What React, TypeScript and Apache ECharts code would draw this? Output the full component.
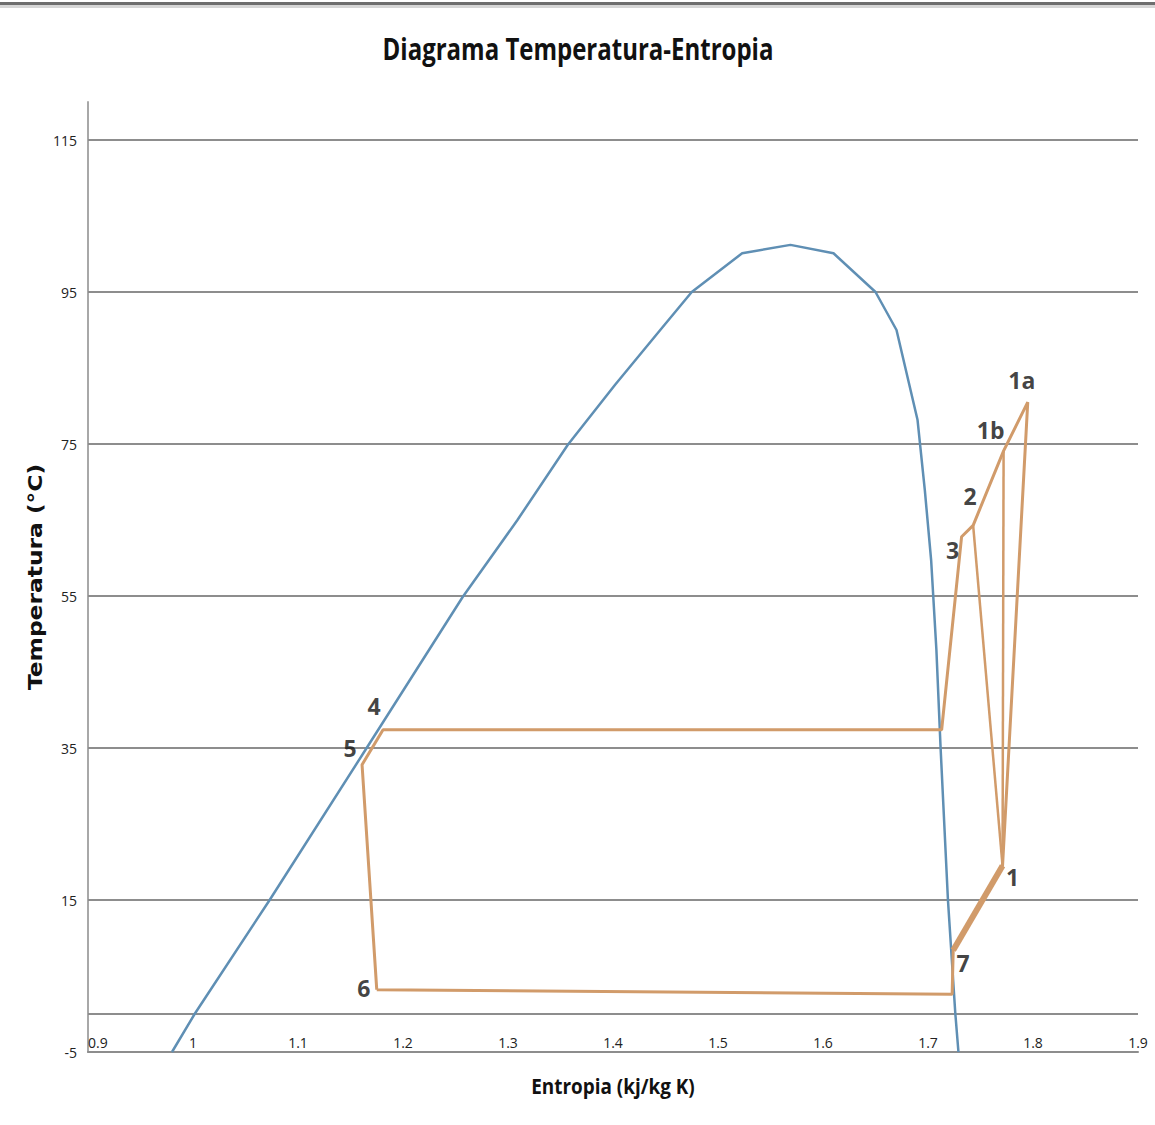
import React, { useEffect, useRef } from "react";
import * as echarts from "echarts";

// Y axis tick labels (°C) and x axis range (kJ/kg K)
const yTicks = [-5, 15, 35, 55, 75, 95, 115];
const xTickStep = 0.1;
const xMin = 0.9;
const xMax = 1.9;
const yMin = -5;
const yMax = 120;
const zeroLine = 0;

// Saturation dome (blue)
const domeS = [0.98, 1.002, 1.073, 1.164, 1.257, 1.309, 1.357, 1.402, 1.445, 1.475, 1.523, 1.569, 1.61, 1.65, 1.67, 1.69, 1.697, 1.703, 1.708, 1.712, 1.719, 1.726, 1.729];
const domeT = [-5, 0.1, 15, 34.7, 54.9, 65.0, 74.9, 82.8, 90, 95, 100.1, 101.2, 100.1, 95, 90, 78.2, 68.9, 59.7, 47.9, 35, 15, 0.1, -5];

// Cycle main path (orange): 6 -> 7' -> 7 -> 1 -> 1a -> 1b -> 2 -> 3 -> 4' -> 4 -> 5 -> 6
const cycleS = [1.175, 1.723, 1.724, 1.771, 1.795, 1.772, 1.743, 1.732, 1.713, 1.181, 1.161, 1.175];
const cycleT = [3.2, 2.6, 8.4, 19.5, 80.5, 74.1, 64.3, 62.8, 37.4, 37.4, 32.8, 3.2];

// Segment 7 -> 1 (thicker)
const seg71S = [1.724, 1.771];
const seg71T = [8.4, 19.5];

// Branches 1b -> 1 and 2 -> 1
const branch1bS = [1.772, 1.771];
const branch1bT = [74.1, 19.5];
const branch2S = [1.743, 1.771];
const branch2T = [64.3, 19.5];

// State points labels
const stateNames = ["1", "1a", "1b", "2", "3", "4", "5", "6", "7"];
const stateS = [1.771, 1.795, 1.772, 1.743, 1.732, 1.181, 1.161, 1.175, 1.724];
const stateT = [19.5, 80.5, 74.1, 64.3, 62.8, 37.4, 32.8, 3.2, 8.4];

const labelOffsets: Record<string, [number, number]> = {
  "1": [10, 11],
  "1a": [-6, -22],
  "1b": [-13, -21],
  "2": [-3, -29],
  "3": [-9, 13],
  "4": [-9, -24],
  "5": [-12, -17],
  "6": [-13, -2],
  "7": [10, 13],
};

const pairs = (a: number[], b: number[]) => a.map((v, i) => [v, b[i]]);

const ORANGE = "#d19b6a";
const BLUE = "#5f8fb4";
const GRID = "#8d8d8d";

export default function App() {
  const ref = useRef<HTMLDivElement>(null);
  useEffect(() => {
    document.body.style.margin = "0";
    const chart = echarts.init(ref.current!, undefined, { renderer: "svg" });
    const option: any = {
      animation: false,
      backgroundColor: "#ffffff",
      grid: { left: 88, right: 17, top: 102, bottom: 73 },
      xAxis: {
        type: "value",
        min: xMin,
        max: xMax,
        interval: xTickStep,
        axisLine: { onZero: false, lineStyle: { color: GRID, width: 2 } },
        axisTick: { show: false },
        splitLine: { show: false },
        axisLabel: {
          inside: true,
          margin: 3,
          color: "#222",
          fontSize: 14,
          fontFamily: "Open Sans",
          alignMinLabel: "left",
          formatter: (v: number) => String(Number(v.toFixed(1))),
        },
      },
      yAxis: {
        type: "value",
        min: yMin,
        max: yMax,
        axisLine: { show: true, lineStyle: { color: "#a8a8a8", width: 2 } },
        axisTick: { show: false },
        splitLine: { show: false },
        axisLabel: {
          customValues: yTicks,
          color: "#222",
          fontSize: 14,
          fontFamily: "Open Sans",
          margin: 11,
        },
      },
      graphic: [
        { type: "rect", shape: { x: 0, y: 2, width: 1155, height: 3 }, style: { fill: "#6e6e6e" } },
        { type: "rect", shape: { x: 0, y: 5, width: 1155, height: 3 }, style: { fill: "#d6d6d6" } },
        {
          type: "text",
          x: 578,
          y: 48,
          scaleX: 0.8,
          style: {
            text: "Diagrama Temperatura-Entropia",
            textAlign: "center",
            textVerticalAlign: "middle",
            font: 'bold 30px "Open Sans"',
            fill: "#111",
          },
        },
        {
          type: "text",
          x: 613,
          y: 1085,
          scaleX: 0.86,
          style: {
            text: "Entropia (kj/kg K)",
            textAlign: "center",
            textVerticalAlign: "middle",
            font: 'bold 22px "Open Sans"',
            fill: "#111",
          },
        },
        {
          type: "text",
          x: 35,
          y: 577,
          rotation: Math.PI / 2,
          scaleX: 1.23,
          style: {
            text: "Temperatura (°C)",
            textAlign: "center",
            textVerticalAlign: "middle",
            font: 'bold 19px "DejaVu Sans"',
            fill: "#111",
          },
        },
      ],
      series: [
        {
          type: "line",
          data: [],
          z: 1,
          markLine: {
            silent: true,
            symbol: ["none", "none"],
            label: { show: false },
            lineStyle: { color: GRID, width: 2, type: "solid" },
            z: 1,
            data: [...yTicks.filter((v) => v > yMin), zeroLine].map((v) => ({ yAxis: v })),
          },
        },
        {
          type: "line",
          name: "Saturación",
          data: pairs(domeS, domeT),
          showSymbol: false,
          lineStyle: { color: BLUE, width: 2.5 },
          z: 3,
        },
        {
          type: "line",
          name: "Ciclo",
          data: pairs(cycleS, cycleT),
          showSymbol: false,
          lineStyle: { color: ORANGE, width: 3 },
          z: 4,
        },
        {
          type: "line",
          data: pairs(seg71S, seg71T),
          showSymbol: false,
          lineStyle: { color: ORANGE, width: 6 },
          z: 4,
        },
        {
          type: "line",
          data: pairs(branch1bS, branch1bT),
          showSymbol: false,
          lineStyle: { color: ORANGE, width: 2.5 },
          z: 4,
        },
        {
          type: "line",
          data: pairs(branch2S, branch2T),
          showSymbol: false,
          lineStyle: { color: ORANGE, width: 2.5 },
          z: 4,
        },
        {
          type: "scatter",
          symbolSize: 1,
          itemStyle: { color: "transparent" },
          z: 5,
          label: {
            show: true,
            position: "inside",
            formatter: "{b}",
            color: "#111",
            fontWeight: "bold",
            fontSize: 23,
            fontFamily: "Open Sans",
          },
          data: stateNames.map((n, i) => ({
            name: n,
            value: [stateS[i], stateT[i]],
            label: { offset: labelOffsets[n] },
          })),
        },
      ],
    };
    chart.setOption(option);
    return () => chart.dispose();
  }, []);
  return <div ref={ref} style={{ width: 1155, height: 1125 }} />;
}
